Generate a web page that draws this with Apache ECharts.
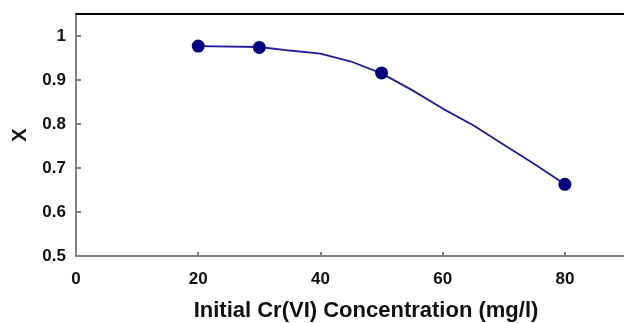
<!DOCTYPE html>
<html>
<head>
<meta charset="utf-8">
<script src="https://cdn.jsdelivr.net/npm/echarts@6/dist/echarts.min.js"></script>
<style>
  html, body { margin: 0; padding: 0; background: #fff; }
  #chart { width: 624px; height: 323px; }
</style>
</head>
<body>
<div id="chart"></div>
<script>
// measured points (initial concentration, X)
const concentration = [20, 30, 50, 80];
const conversion = [0.977, 0.974, 0.916, 0.663];
// fitted curve
const curveConc = [20, 30, 35, 40, 45, 50, 55, 60, 65, 70, 75, 80];
const curveX = [0.977, 0.975, 0.967, 0.960, 0.942, 0.915, 0.877, 0.835, 0.797, 0.753, 0.709, 0.663];

const chart = echarts.init(document.getElementById("chart"));
const font = "Liberation Sans, Arial, sans-serif";

chart.setOption({
  animation: false,
  grid: { left: 76, top: 14, width: 550, bottom: 67, outerBoundsMode: "none" },
  xAxis: [
    {
      type: "value",
      min: 0, max: 90, interval: 20,
      name: "Initial Cr(VI) Concentration (mg/l)",
      nameLocation: "middle",
      nameGap: 44,
      nameTextStyle: { fontFamily: font, fontWeight: "bold", fontSize: 22, color: "#111", padding: [0, 0, 0, 30] },
      axisLine: { lineStyle: { color: "#808080", width: 2 } },
      axisTick: { inside: true, length: 4, lineStyle: { color: "#808080", width: 2 } },
      axisLabel: { fontFamily: font, fontWeight: "bold", fontSize: 17, color: "#111", margin: 15, showMaxLabel: false },
      splitLine: { show: false }
    },
    {
      // top edge of the plot frame
      type: "value",
      position: "top",
      min: 0, max: 90,
      axisLine: { lineStyle: { color: "#000", width: 2 } },
      axisTick: { show: false },
      axisLabel: { show: false },
      splitLine: { show: false }
    }
  ],
  yAxis: {
    type: "value",
    min: 0.5, max: 1.05, interval: 0.1,
    name: "X",
    nameLocation: "middle",
    nameGap: 46,
    nameRotate: 90,
    nameTextStyle: { fontFamily: font, fontWeight: "bold", fontSize: 20, color: "#111" },
    axisLine: { lineStyle: { color: "#808080", width: 2 } },
    axisTick: { inside: true, length: 5, lineStyle: { color: "#808080", width: 2 } },
    axisLabel: { fontFamily: font, fontWeight: "bold", fontSize: 17, color: "#111", margin: 10, showMaxLabel: false,
      formatter: v => String(Math.round(v * 10) / 10) },
    splitLine: { show: false }
  },
  series: [
    {
      name: "model",
      type: "line",
      data: curveConc.map((c, i) => [c, curveX[i]]),
      showSymbol: false,
      symbol: "none",
      lineStyle: { color: "#1c1c9c", width: 1.8 },
      z: 2
    },
    {
      name: "experimental",
      type: "scatter",
      data: concentration.map((c, i) => [c, conversion[i]]),
      symbol: "circle",
      symbolSize: 13,
      itemStyle: { color: "#000080", opacity: 1 },
      z: 3
    }
  ]
});
</script>
</body>
</html>
